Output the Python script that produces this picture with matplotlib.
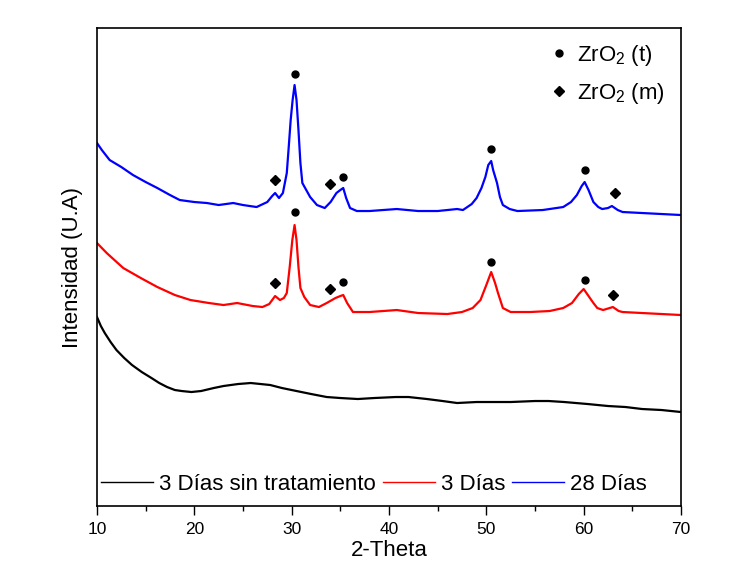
import matplotlib
matplotlib.use("Agg")
import matplotlib.pyplot as plt
from matplotlib.lines import Line2D

plt.rcParams['font.family'] = ['Liberation Sans', 'DejaVu Sans']
plt.rcParams['mathtext.fontset'] = 'custom'
plt.rcParams['mathtext.rm'] = 'Liberation Sans'
plt.rcParams['mathtext.it'] = 'Liberation Sans:italic'
plt.rcParams['mathtext.bf'] = 'Liberation Sans:bold'

# ---- data (2-theta in degrees, intensity in arbitrary units) ----
theta_28 = [10.0, 10.5, 11.3, 12.5, 13.7, 15.0, 16.2, 17.5, 18.5, 20.0, 21.3, 22.5, 24.0, 25.0,
            26.4, 27.5, 28.0, 28.3, 28.7, 29.1, 29.5, 29.7, 29.9, 30.1, 30.3, 30.5, 30.7, 30.9,
            31.1, 31.5, 31.9, 32.6, 33.4, 34.0, 34.6, 35.0, 35.3, 35.6, 36.0, 36.7, 38.0, 40.8,
            43.0, 45.0, 47.0, 47.6, 48.5, 49.0, 49.5, 49.9, 50.2, 50.5, 50.7, 51.1, 51.4, 51.7,
            52.4, 53.2, 55.8, 57.9, 58.7, 59.3, 59.8, 60.1, 60.5, 61.0, 61.5, 61.9, 62.5, 62.9,
            63.5, 64.0, 66.0, 68.0, 70.0]
int_28 = [363, 356, 346, 339, 331, 324, 318, 311, 306, 304, 303, 301, 303, 301,
          299, 304, 310, 313, 308, 313, 333, 359, 386, 406, 421, 406, 376, 343,
          323, 316, 309, 301, 298, 304, 313, 316, 318, 308, 298, 295, 295, 297,
          295, 295, 297, 296, 302, 308, 318, 329, 341, 345, 336, 323, 309, 301,
          297, 295, 296, 299, 304, 311, 320, 324, 316, 304, 299, 297, 298, 300,
          296, 294, 293, 292, 291]

theta_3 = [10.0, 11.0, 12.7, 14.5, 16.2, 18.0, 19.6, 21.5, 23.0, 24.4, 26.0, 27.0, 27.7, 28.3,
           28.8, 29.2, 29.5, 29.8, 30.07, 30.3, 30.5, 30.7, 30.9, 31.3, 31.9, 32.8, 33.6, 34.5,
           35.0, 35.3, 35.7, 36.3, 38.0, 40.8, 43.0, 46.0, 47.5, 48.6, 49.4, 50.0, 50.5, 50.9,
           51.2, 51.7, 52.5, 54.5, 56.5, 57.9, 58.8, 59.5, 60.0, 60.5, 61.0, 61.4, 62.0, 63.0,
           63.6, 64.0, 66.0, 68.0, 70.0]
int_3 = [263, 253, 238, 228, 219, 211, 206, 203, 201, 203, 200, 199, 202, 210,
         206, 208, 213, 239, 266, 281, 266, 239, 218, 209, 201, 199, 203, 208,
         210, 211, 203, 194, 194, 196, 193, 192, 194, 198, 206, 221, 234, 223,
         213, 198, 194, 194, 195, 198, 203, 212, 217, 210, 203, 198, 196, 199,
         195, 194, 193, 192, 191]

theta_raw = [10.0, 10.4, 10.8, 11.4, 12.0, 12.8, 13.6, 14.6, 15.6, 16.4, 17.2, 18.0, 18.7, 19.7,
             20.7, 22.0, 23.0, 24.5, 25.8, 26.8, 27.8, 29.0, 30.5, 32.0, 33.6, 35.0, 36.8, 38.5,
             40.7, 42.0, 43.9, 45.5, 47.0, 49.0, 52.5, 55.0, 56.4, 58.0, 60.4, 62.5, 64.3, 66.0,
             68.0, 70.0]
int_raw = [189, 180, 173, 164, 156, 148, 141, 134, 128, 123, 119, 116, 115, 114,
           115, 118, 120, 122, 123, 122, 121, 118, 115, 112, 109, 108, 107, 108,
           109, 109, 107, 105, 103, 104, 104, 105, 105, 104, 102, 100, 99, 97,
           96, 94]

# reflection markers: 2-theta positions and marker heights for each pattern
t_pos = [30.3, 35.3, 50.5, 60.1]
t_h_28 = [432, 329, 357, 336]
t_h_3 = [294, 224, 244, 226]
m_pos_28 = [28.3, 33.9, 63.2]
m_h_28 = [326, 322, 313]
m_pos_3 = [28.3, 33.9, 63.0]
m_h_3 = [223, 217, 211]

series_labels = ['3 Días sin tratamiento', '3 Días', '28 Días']
series_colors = ['black', '#ff0000', '#0000ff']
phase_labels = ['ZrO$_2$ (t)', 'ZrO$_2$ (m)']

fig = plt.figure(figsize=(7.5, 5.65), dpi=100)
ax = fig.add_axes([0.1293, 0.1044, 0.7787, 0.846])

for th, it, c, lab in zip([theta_raw, theta_3, theta_28], [int_raw, int_3, int_28],
                          series_colors, series_labels):
    ax.plot(th, it, color=c, lw=1.6, label=lab, solid_joinstyle='round')

ax.plot(t_pos, t_h_28, ls='none', marker='o', ms=5, color='black')
ax.plot(t_pos, t_h_3, ls='none', marker='o', ms=5, color='black')
ax.plot(m_pos_28, m_h_28, ls='none', marker='D', ms=5.2, color='black')
ax.plot(m_pos_3, m_h_3, ls='none', marker='D', ms=5.2, color='black')

ax.set_xlim(10, 70)
ax.set_ylim(0, 478)
ax.set_xticks(range(10, 71, 10))
ax.set_xticks(range(15, 70, 10), minor=True)
ax.set_yticks([])
ax.tick_params(axis='x', which='major', direction='out', length=6.5, width=1.0,
               labelsize=12.5, pad=5, top=False)
ax.tick_params(axis='x', which='minor', direction='out', length=3.6, width=1.0, top=False)
for s in ax.spines.values():
    s.set_linewidth(1.2)

ax.set_xlabel('2-Theta', fontsize=16, labelpad=2)
ax.set_ylabel('Intensidad (U.A)', fontsize=16, labelpad=10)

handles = [Line2D([], [], color=c, lw=1.0) for c in series_colors]
leg1 = ax.legend(handles, series_labels, loc='center left', bbox_to_anchor=(0.0, 0.046),
                 ncol=3, frameon=False, fontsize=16, handlelength=2.34,
                 handletextpad=0.27, columnspacing=0.3, borderpad=0.2, borderaxespad=0)
ax.add_artist(leg1)

ph = [Line2D([], [], ls='none', marker='o', ms=5, color='black'),
      Line2D([], [], ls='none', marker='D', ms=5.2, color='black')]
ax.legend(ph, phase_labels, loc='upper left', bbox_to_anchor=(0.780, 0.969),
          frameon=False, fontsize=16, handlelength=0.6, handletextpad=0.5,
          labelspacing=0.6, borderpad=0, borderaxespad=0)

fig.savefig('out.png', dpi=100)
